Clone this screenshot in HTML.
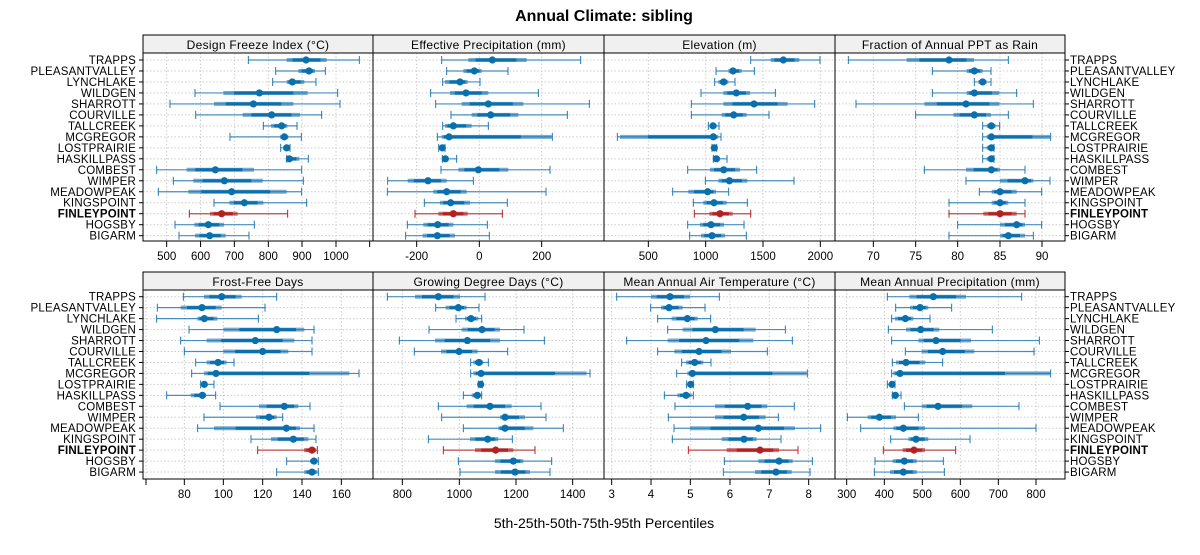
<!DOCTYPE html>
<html><head><meta charset="utf-8"><style>
body{margin:0;background:#fff}
svg text{font-family:"Liberation Sans",sans-serif}
</style></head><body>
<svg id="s" width="1200" height="550" xmlns="http://www.w3.org/2000/svg"></svg>
<script>
const names=["TRAPPS","PLEASANTVALLEY","LYNCHLAKE","WILDGEN","SHARROTT","COURVILLE","TALLCREEK","MCGREGOR","LOSTPRAIRIE","HASKILLPASS","COMBEST","WIMPER","MEADOWPEAK","KINGSPOINT","FINLEYPOINT","HOGSBY","BIGARM"];
const P=[
{t:"Design Freeze Index (°C)",ox:140,row:0,x0:143,x1:373,ticks:[[80,"500"],[181.6,"600"],[283,"700"],[385,"800"],[486,"900"],[588,"1000"],[689,""]],d:[
[325,440,498,560,658],[407,475,507,525,556],[398,440,457,493,528],[165,250,358,503,593],[90,222,340,460,600],[167,308,395,480,545],[370,393,425,442,471],[270,420,433,445,484],[422,432,440,447,450],[440,447,448,478,505],[50,140,226,342,485],[100,160,253,368,490],[55,145,275,440,485],[222,268,313,370,500],[148,210,245,293,443],[105,163,205,252,343],[117,165,209,257,327]]},
{t:"Effective Precipitation (mm)",ox:140,row:0,x0:373,x1:604,ticks:[[830,"-200"],[1018,"0"],[1205,"200"]],d:[
[905,985,1057,1160,1322],[920,970,1003,1025,1104],[908,915,960,983,1020],[872,930,978,1045,1195],[887,965,1045,1150,1348],[933,995,1052,1135,1282],[908,915,940,995,1045],[892,905,927,1235,1237],[896,900,907,912,915],[907,910,916,925,950],[903,955,1015,1105,1230],[743,803,864,920,1000],[742,880,920,980,1218],[853,900,932,990,1102],[825,895,940,983,1087],[802,850,893,940,1042],[797,848,892,945,1048]]},
{t:"Elevation (m)",ox:600,row:0,x0:604,x1:835,ticks:[[145,"500"],[317,"1000"],[489,"1500"],[661,"2000"]],d:[
[452,512,550,598,660],[348,385,399,425,463],[344,355,371,385,405],[303,370,409,450,526],[274,370,462,563,644],[274,365,401,440,507],[325,330,339,350,357],[52,60,340,355,363],[336,338,343,348,350],[340,343,349,360,381],[263,330,371,420,470],[316,355,388,442,582],[218,265,323,348,386],[280,310,342,380,442],[283,328,360,398,452],[263,300,333,372,432],[269,303,336,375,439]]},
{t:"Fraction of Annual PPT as Rain",ox:600,row:0,x0:835,x1:1065,ticks:[[820,"70"],[947,"75"],[1073,"80"],[1200,"85"],[1326,"90"]],d:[
[745,920,1047,1122,1225],[997,1100,1123,1148,1173],[1123,1135,1148,1160,1173],[997,1100,1123,1198,1250],[768,973,1098,1198,1300],[947,1060,1123,1173,1225],[1148,1160,1174,1187,1199],[1148,1160,1174,1350,1352],[1148,1160,1174,1180,1182],[1148,1160,1174,1180,1182],[973,1098,1174,1200,1275],[1098,1200,1275,1300,1350],[1138,1175,1200,1250,1325],[1047,1175,1200,1225,1275],[1047,1150,1200,1250,1275],[1073,1200,1250,1275,1325],[1047,1200,1225,1275,1300]]},
{t:"Frost-Free Days",ox:140,row:1,x0:143,x1:373,ticks:[[18,""],[133,"80"],[250,"100"],[368,"120"],[486,"140"],[604,"160"]],d:[
[130,192,245,305,410],[52,122,186,245,375],[50,172,193,232,355],[147,250,410,493,522],[122,200,346,463,516],[133,250,368,445,516],[167,200,234,260,282],[155,192,228,628,657],[182,186,193,200,222],[80,152,187,198,227],[240,357,433,475,510],[192,348,387,410,428],[173,222,439,480,522],[333,393,460,505,528],[353,492,516,528,532],[440,510,522,532,535],[410,493,516,532,535]]},
{t:"Growing Degree Days (°C)",ox:140,row:1,x0:373,x1:604,ticks:[[787,"800"],[958,"1000"],[1128,"1200"],[1298,"1400"]],d:[
[742,825,895,960,1035],[887,917,955,980,1017],[948,975,993,1015,1025],[867,965,1026,1080,1152],[778,885,982,1080,1213],[823,903,957,1013,1103],[992,1000,1017,1030,1045],[992,1000,1023,1340,1350],[1015,1017,1022,1025,1027],[970,995,1012,1022,1025],[895,980,1050,1115,1203],[905,1080,1095,1155,1218],[970,1075,1095,1180,1270],[865,990,1043,1075,1117],[910,1005,1067,1120,1185],[955,1065,1120,1150,1235],[960,1065,1125,1170,1230]]},
{t:"Mean Annual Air Temperature (°C)",ox:600,row:1,x0:604,x1:835,ticks:[[35,"3"],[153,"4"],[271,"5"],[390,"6"],[508,"7"],[626,"8"]],d:[
[50,153,210,270,358],[152,183,207,248,315],[173,215,262,293,332],[203,248,346,467,556],[80,203,318,460,577],[173,223,297,393,502],[245,258,284,310,333],[230,262,277,620,622],[260,265,272,277,280],[193,232,258,275,280],[225,345,443,502,583],[205,345,431,497,535],[222,270,475,585,662],[217,365,432,470,543],[265,380,480,537,594],[373,475,537,578,637],[370,465,528,575,630]]},
{t:"Mean Annual Precipitation (mm)",ox:600,row:1,x0:835,x1:1065,ticks:[[740,"300"],[853,"400"],[967,"500"],[1081,"600"],[1195,"700"],[1308,"800"]],d:[
[862,928,1000,1098,1265],[887,930,960,985,1055],[875,885,916,940,990],[865,918,962,1018,1177],[875,955,1008,1113,1318],[916,965,1028,1123,1302],[877,888,918,976,1028],[875,880,900,1350,1352],[862,868,876,882,885],[877,880,886,892,903],[913,965,1014,1117,1257],[742,803,838,888,955],[782,880,910,975,1308],[872,925,948,985,1110],[850,908,942,975,1067],[825,878,913,950,1030],[823,870,910,950,1033]]}
];
const R=[{st:35,pt:53,pb:241,y0:60,dy:10.98},{st:272,pt:290,pb:479,y0:296.7,dy:10.96}];
let h='<text x="604" y="21" text-anchor="middle" font-size="16" font-weight="bold">Annual Climate: sibling</text>';
h+='<text x="604" y="528" text-anchor="middle" font-size="14">5th-25th-50th-75th-95th Percentiles</text>';
R.forEach((r,ri)=>{
 names.forEach((n,i)=>{const y=r.y0+i*r.dy;const b=n=="FINLEYPOINT"?' font-weight="bold"':'';
  h+=`<text x="136" y="${y+4}" text-anchor="end" font-size="11.5" letter-spacing="0.2"${b}>${n}</text>`;
  h+=`<text x="1070" y="${y+4}" font-size="11.5" letter-spacing="0.2"${b}>${n}</text>`;
  h+=`<line x1="139" x2="143" y1="${y}" y2="${y}" stroke="#000"/><line x1="1065" x2="1069" y1="${y}" y2="${y}" stroke="#000"/>`;});
});
P.forEach(p=>{const r=R[p.row];const X=z=>p.ox+z/3;
 h+=`<rect x="${p.x0}" y="${r.st}" width="${p.x1-p.x0}" height="${r.pt-r.st}" fill="#f0f0f0" stroke="#000"/>`;
 h+=`<text x="${(p.x0+p.x1)/2}" y="${r.st+14}" text-anchor="middle" font-size="12" letter-spacing="0.3">${p.t}</text>`;
 p.ticks.forEach(t=>{const x=X(t[0]);if(x>p.x0&&x<p.x1)h+=`<line x1="${x}" x2="${x}" y1="${r.pt}" y2="${r.pb}" stroke="#ccc" stroke-dasharray="1.5,2"/>`;
  h+=`<line x1="${x}" x2="${x}" y1="${r.pb}" y2="${r.pb+6}" stroke="#000"/>`;
  if(t[1])h+=`<text x="${x}" y="${r.pb+19}" text-anchor="middle" font-size="11.5">${t[1]}</text>`;});
 names.forEach((n,i)=>{const y=r.y0+i*r.dy;h+=`<line x1="${p.x0}" x2="${p.x1}" y1="${y}" y2="${y}" stroke="#ccc" stroke-dasharray="1.5,2"/>`;});
 p.d.forEach((v,i)=>{const y=r.y0+i*r.dy;const c=names[i]=="FINLEYPOINT"?"#b22222":"#1f78b4";const cd=names[i]=="FINLEYPOINT"?"#b22222":"#0a6fad";
  const a=v.map(X);
  h+=`<line x1="${a[0]}" x2="${a[4]}" y1="${y}" y2="${y}" stroke="${c}" stroke-width="1.2" opacity="0.8"/>`;
  h+=`<line x1="${a[0]}" x2="${a[0]}" y1="${y-4}" y2="${y+4}" stroke="${c}"/><line x1="${a[4]}" x2="${a[4]}" y1="${y-4}" y2="${y+4}" stroke="${c}"/>`;
  h+=`<line x1="${a[1]}" x2="${a[3]}" y1="${y}" y2="${y}" stroke="${c}" stroke-width="4" opacity="0.6"/>`;
  h+=`<line x1="${a[1]+(a[2]-a[1])*0.3}" x2="${a[2]+(a[3]-a[2])*0.7}" y1="${y}" y2="${y}" stroke="${cd}" stroke-width="3"/>`;
  h+=`<circle cx="${a[2]}" cy="${y}" r="3.6" fill="${cd}"/>`;});
 h+=`<rect x="${p.x0}" y="${r.pt}" width="${p.x1-p.x0}" height="${r.pb-r.pt}" fill="none" stroke="#000"/>`;
});
document.getElementById('s').innerHTML=h;
</script>
</body></html>
